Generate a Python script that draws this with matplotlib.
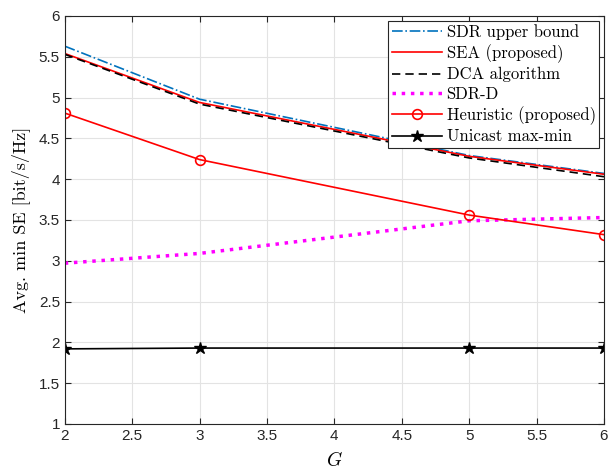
import matplotlib
matplotlib.use("Agg")
import matplotlib.pyplot as plt

G = [2, 3, 5, 6]
sdr_ub = [5.63, 4.98, 4.29, 4.07]
sea = [5.54, 4.94, 4.28, 4.06]
dca = [5.53, 4.92, 4.26, 4.03]
sdr_d = [2.97, 3.09, 3.49, 3.53]
heur = [4.81, 4.24, 3.56, 3.32]
unicast = [1.92, 1.93, 1.93, 1.93]

plt.rcParams["font.family"] = ["Liberation Sans", "DejaVu Sans"]
plt.rcParams["mathtext.fontset"] = "cm"

fig = plt.figure(figsize=(6.11, 4.70), dpi=100)
ax = fig.add_axes([0.106, 0.098, 0.8825, 0.868])

ax.plot(G, sdr_ub, color="#0072BD", ls="-.", lw=1.2, label="SDR upper bound")
ax.plot(G, sea, color="red", ls="-", lw=1.2, label="SEA (proposed)")
ax.plot(G, dca, color="black", ls=(0, (5, 3)), lw=1.2, label="DCA algorithm")
ax.plot(G, sdr_d, color="magenta", ls=":", lw=2.5, label="SDR-D")
ax.plot(G, heur, color="red", ls="-", lw=1.2, marker="o", ms=7, mfc="none",
        mew=1.2, label="Heuristic (proposed)")
ax.plot(G, unicast, color="black", ls="-", lw=1.2, marker="*", ms=9,
        label="Unicast max-min")

ax.set_xlim(2, 6)
ax.set_ylim(1, 6)
ax.set_xticks([2, 2.5, 3, 3.5, 4, 4.5, 5, 5.5, 6])
ax.set_xticklabels(["2", "2.5", "3", "3.5", "4", "4.5", "5", "5.5", "6"])
ax.set_yticks([1, 1.5, 2, 2.5, 3, 3.5, 4, 4.5, 5, 5.5, 6])
ax.set_yticklabels(["1", "1.5", "2", "2.5", "3", "3.5", "4", "4.5", "5", "5.5", "6"])
ax.tick_params(direction="in", labelsize=11, colors="#262626", length=4,
               top=True, right=True)
ax.grid(True, color="#e3e3e3", lw=0.8)
for s in ax.spines.values():
    s.set_color("#262626")
    s.set_linewidth(0.8)

ax.set_xlabel("$G$", fontsize=14, labelpad=6)
ax.set_ylabel("Avg. min SE [bit/s/Hz]", fontsize=13, family="cmr10", labelpad=6)

leg = ax.legend(loc="upper right", bbox_to_anchor=(1.0, 1.0), fancybox=False,
                edgecolor="#262626", framealpha=1, prop={"family": "cmr10", "size": 12},
                handlelength=3.0, borderpad=0.2, labelspacing=0.25, handletextpad=0.3,
                borderaxespad=0.3)
leg.get_frame().set_linewidth(0.8)

fig.savefig("out.png", dpi=100, facecolor="white")
